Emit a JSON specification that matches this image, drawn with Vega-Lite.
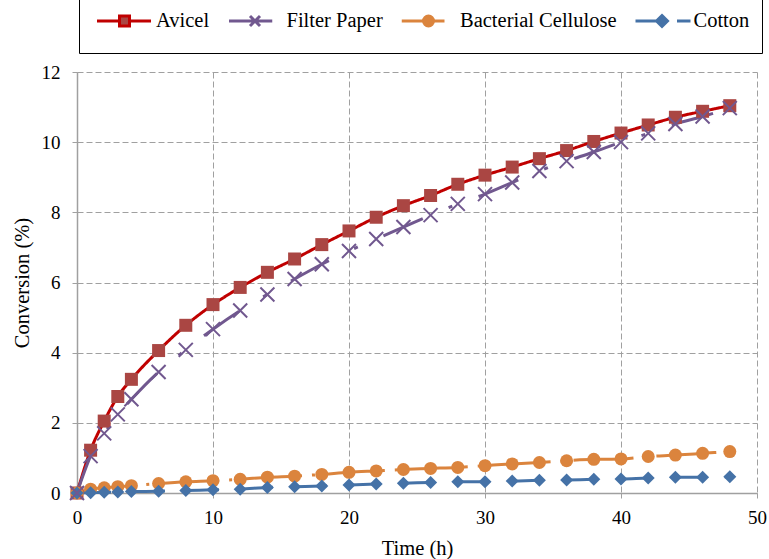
{
  "$schema": "https://vega.github.io/schema/vega-lite/v6.json",
  "width": 680,
  "height": 421,
  "autosize": {"type": "none"},
  "padding": {"left": 77, "top": 72, "right": 12, "bottom": 66},
  "background": "white",
  "config": {
    "view": {"stroke": null},
    "font": "Liberation Serif",
    "axis": {
      "labelFont": "Liberation Serif",
      "titleFont": "Liberation Serif",
      "labelColor": "#000000",
      "titleColor": "#000000",
      "labelFontSize": 19,
      "titleFontSize": 20.5,
      "titleFontWeight": "normal",
      "grid": true,
      "gridColor": "#A0A0A0",
      "gridDash": [6, 3],
      "gridWidth": 1,
      "domainColor": "#A0A0A0",
      "domainWidth": 1.5,
      "tickColor": "#A0A0A0",
      "tickSize": 5,
      "labelFlush": false,
      "labelOverlap": false
    }
  },
  "data": {
    "values": [
      {"s": "Avicel", "t": 0, "v": 0}, {"s": "Avicel", "t": 1, "v": 1.22}, {"s": "Avicel", "t": 2, "v": 2.05}, {"s": "Avicel", "t": 3, "v": 2.75}, {"s": "Avicel", "t": 4, "v": 3.24}, {"s": "Avicel", "t": 6, "v": 4.06}, {"s": "Avicel", "t": 8, "v": 4.78}, {"s": "Avicel", "t": 10, "v": 5.37}, {"s": "Avicel", "t": 12, "v": 5.86}, {"s": "Avicel", "t": 14, "v": 6.29}, {"s": "Avicel", "t": 16, "v": 6.67}, {"s": "Avicel", "t": 18, "v": 7.08}, {"s": "Avicel", "t": 20, "v": 7.47}, {"s": "Avicel", "t": 22, "v": 7.86}, {"s": "Avicel", "t": 24, "v": 8.19}, {"s": "Avicel", "t": 26, "v": 8.48}, {"s": "Avicel", "t": 28, "v": 8.8}, {"s": "Avicel", "t": 30, "v": 9.06}, {"s": "Avicel", "t": 32, "v": 9.29}, {"s": "Avicel", "t": 34, "v": 9.53}, {"s": "Avicel", "t": 36, "v": 9.76}, {"s": "Avicel", "t": 38, "v": 10.02}, {"s": "Avicel", "t": 40, "v": 10.26}, {"s": "Avicel", "t": 42, "v": 10.49}, {"s": "Avicel", "t": 44, "v": 10.71}, {"s": "Avicel", "t": 46, "v": 10.88}, {"s": "Avicel", "t": 48, "v": 11.04},
      {"s": "Filter Paper", "t": 0, "v": 0}, {"s": "Filter Paper", "t": 1, "v": 1.05}, {"s": "Filter Paper", "t": 2, "v": 1.7}, {"s": "Filter Paper", "t": 3, "v": 2.24}, {"s": "Filter Paper", "t": 4, "v": 2.67}, {"s": "Filter Paper", "t": 6, "v": 3.45}, {"s": "Filter Paper", "t": 8, "v": 4.08}, {"s": "Filter Paper", "t": 10, "v": 4.67}, {"s": "Filter Paper", "t": 12, "v": 5.2}, {"s": "Filter Paper", "t": 14, "v": 5.66}, {"s": "Filter Paper", "t": 16, "v": 6.1}, {"s": "Filter Paper", "t": 18, "v": 6.52}, {"s": "Filter Paper", "t": 20, "v": 6.9}, {"s": "Filter Paper", "t": 22, "v": 7.24}, {"s": "Filter Paper", "t": 24, "v": 7.58}, {"s": "Filter Paper", "t": 26, "v": 7.92}, {"s": "Filter Paper", "t": 28, "v": 8.24}, {"s": "Filter Paper", "t": 30, "v": 8.52}, {"s": "Filter Paper", "t": 32, "v": 8.85}, {"s": "Filter Paper", "t": 34, "v": 9.18}, {"s": "Filter Paper", "t": 36, "v": 9.46}, {"s": "Filter Paper", "t": 38, "v": 9.72}, {"s": "Filter Paper", "t": 40, "v": 10.0}, {"s": "Filter Paper", "t": 42, "v": 10.25}, {"s": "Filter Paper", "t": 44, "v": 10.52}, {"s": "Filter Paper", "t": 46, "v": 10.73}, {"s": "Filter Paper", "t": 48, "v": 10.97},
      {"s": "Bacterial Cellulose", "t": 0, "v": 0}, {"s": "Bacterial Cellulose", "t": 1, "v": 0.11}, {"s": "Bacterial Cellulose", "t": 2, "v": 0.15}, {"s": "Bacterial Cellulose", "t": 3, "v": 0.18}, {"s": "Bacterial Cellulose", "t": 4, "v": 0.21}, {"s": "Bacterial Cellulose", "t": 6, "v": 0.27}, {"s": "Bacterial Cellulose", "t": 8, "v": 0.32}, {"s": "Bacterial Cellulose", "t": 10, "v": 0.35}, {"s": "Bacterial Cellulose", "t": 12, "v": 0.39}, {"s": "Bacterial Cellulose", "t": 14, "v": 0.45}, {"s": "Bacterial Cellulose", "t": 16, "v": 0.48}, {"s": "Bacterial Cellulose", "t": 18, "v": 0.53}, {"s": "Bacterial Cellulose", "t": 20, "v": 0.59}, {"s": "Bacterial Cellulose", "t": 22, "v": 0.63}, {"s": "Bacterial Cellulose", "t": 24, "v": 0.67}, {"s": "Bacterial Cellulose", "t": 26, "v": 0.7}, {"s": "Bacterial Cellulose", "t": 28, "v": 0.73}, {"s": "Bacterial Cellulose", "t": 30, "v": 0.78}, {"s": "Bacterial Cellulose", "t": 32, "v": 0.83}, {"s": "Bacterial Cellulose", "t": 34, "v": 0.87}, {"s": "Bacterial Cellulose", "t": 36, "v": 0.92}, {"s": "Bacterial Cellulose", "t": 38, "v": 0.96}, {"s": "Bacterial Cellulose", "t": 40, "v": 0.97}, {"s": "Bacterial Cellulose", "t": 42, "v": 1.04}, {"s": "Bacterial Cellulose", "t": 44, "v": 1.08}, {"s": "Bacterial Cellulose", "t": 46, "v": 1.13}, {"s": "Bacterial Cellulose", "t": 48, "v": 1.18},
      {"s": "Cotton", "t": 0, "v": 0}, {"s": "Cotton", "t": 1, "v": 0.01}, {"s": "Cotton", "t": 2, "v": 0.02}, {"s": "Cotton", "t": 3, "v": 0.03}, {"s": "Cotton", "t": 4, "v": 0.04}, {"s": "Cotton", "t": 6, "v": 0.05}, {"s": "Cotton", "t": 8, "v": 0.07}, {"s": "Cotton", "t": 10, "v": 0.09}, {"s": "Cotton", "t": 12, "v": 0.11}, {"s": "Cotton", "t": 14, "v": 0.16}, {"s": "Cotton", "t": 16, "v": 0.18}, {"s": "Cotton", "t": 18, "v": 0.2}, {"s": "Cotton", "t": 20, "v": 0.23}, {"s": "Cotton", "t": 22, "v": 0.26}, {"s": "Cotton", "t": 24, "v": 0.28}, {"s": "Cotton", "t": 26, "v": 0.3}, {"s": "Cotton", "t": 28, "v": 0.32}, {"s": "Cotton", "t": 30, "v": 0.32}, {"s": "Cotton", "t": 32, "v": 0.34}, {"s": "Cotton", "t": 34, "v": 0.36}, {"s": "Cotton", "t": 36, "v": 0.37}, {"s": "Cotton", "t": 38, "v": 0.39}, {"s": "Cotton", "t": 40, "v": 0.4}, {"s": "Cotton", "t": 42, "v": 0.43}, {"s": "Cotton", "t": 44, "v": 0.45}, {"s": "Cotton", "t": 46, "v": 0.45}, {"s": "Cotton", "t": 48, "v": 0.46}
    ]
  },
  "encoding": {
    "x": {
      "field": "t", "type": "quantitative",
      "scale": {"domain": [0, 50], "nice": false, "zero": false},
      "axis": {"values": [0, 10, 20, 30, 40, 50], "title": "Time (h)", "labelPadding": 10, "titlePadding": 11}
    },
    "y": {
      "field": "v", "type": "quantitative",
      "scale": {"domain": [0, 12], "nice": false},
      "axis": {"values": [0, 2, 4, 6, 8, 10, 12], "title": "Conversion (%)", "labelPadding": 12, "titlePadding": 9}
    }
  },
  "layer": [
    {
      "mark": {"type": "line", "interpolate": "monotone", "strokeWidth": 3},
      "encoding": {
        "color": {
          "field": "s", "type": "nominal",
          "scale": {"domain": ["Avicel", "Filter Paper", "Bacterial Cellulose", "Cotton"], "range": ["#C00000", "#71588F", "#DB843D", "#4572A7"]},
          "legend": {
            "orient": "none", "legendX": 2, "legendY": -83, "direction": "horizontal", "title": null,
            "strokeColor": "#000000", "fillColor": "#ffffff", "padding": 12,
            "clipHeight": 40, "symbolSize": 2500, "symbolOffset": 7, "labelOffset": 5, "columnPadding": 11.5,
            "labelFont": "Liberation Serif", "labelFontSize": 20.5, "labelColor": "#000000", "labelLimit": 300,
            "symbolStrokeWidth": 3,
            "encode": {
              "symbols": {
                "update": {
                  "shape": {"signal": "datum.value === 'Avicel' ? 'M-1.1,0L-0.2,0M0.2,0L1.06,0M-0.2,-0.2L0.2,-0.2L0.2,0.2L-0.2,0.2Z' : datum.value === 'Filter Paper' ? 'M-1.04,0L0.69,0M-0.2,-0.2L0.2,0.2M-0.2,0.2L0.2,-0.2' : datum.value === 'Bacterial Cellulose' ? 'M-1.07,0L0.64,0M0.2,0A0.2,0.2,0,1,1,-0.2,0A0.2,0.2,0,1,1,0.2,0Z' : 'M-1.06,0L-0.2,0M0.6,0L1.14,0M0,-0.22L0.22,0L0,0.22L-0.22,0Z'"},
                  "fill": {"signal": "datum.value === 'Avicel' ? '#AA4643' : datum.value === 'Filter Paper' ? 'transparent' : datum.value === 'Bacterial Cellulose' ? '#DB843D' : '#4572A7'"},
                  "stroke": {"signal": "datum.value === 'Avicel' ? '#C00000' : datum.value === 'Filter Paper' ? '#71588F' : datum.value === 'Bacterial Cellulose' ? '#DB843D' : '#4572A7'"},
                  "strokeWidth": {"value": 3}
                }
              }
            }
          }
        },
        "strokeDash": {
          "field": "s", "type": "nominal",
          "scale": {"domain": ["Cotton", "Bacterial Cellulose", "Filter Paper", "Avicel"], "range": [[34, 20], [60, 10, 3, 10], [43, 28, 4, 28], [1, 0]]},
          "legend": null
        }
      }
    },
    {
      "transform": [{"filter": "datum.s !== 'Filter Paper'"}],
      "mark": {"type": "point", "filled": true, "opacity": 1, "size": 169, "strokeWidth": 0},
      "encoding": {
        "fill": {
          "field": "s", "type": "nominal",
          "scale": {"domain": ["Filter Paper", "Avicel", "Bacterial Cellulose", "Cotton"], "range": ["#71588F", "#AA4643", "#DB843D", "#4572A7"]},
          "legend": null
        },
        "shape": {
          "field": "s", "type": "nominal",
          "scale": {"domain": ["Bacterial Cellulose", "Cotton", "Avicel", "Filter Paper"], "range": ["circle", "diamond", "square", "cross"]},
          "legend": null
        }
      }
    },
    {
      "transform": [{"filter": "datum.s === 'Filter Paper'"}],
      "mark": {"type": "point", "shape": "M-1,-1L1,1M-1,1L1,-1", "filled": false, "stroke": "#71588F", "strokeWidth": 2, "size": 196, "opacity": 1}
    }
  ]
}
